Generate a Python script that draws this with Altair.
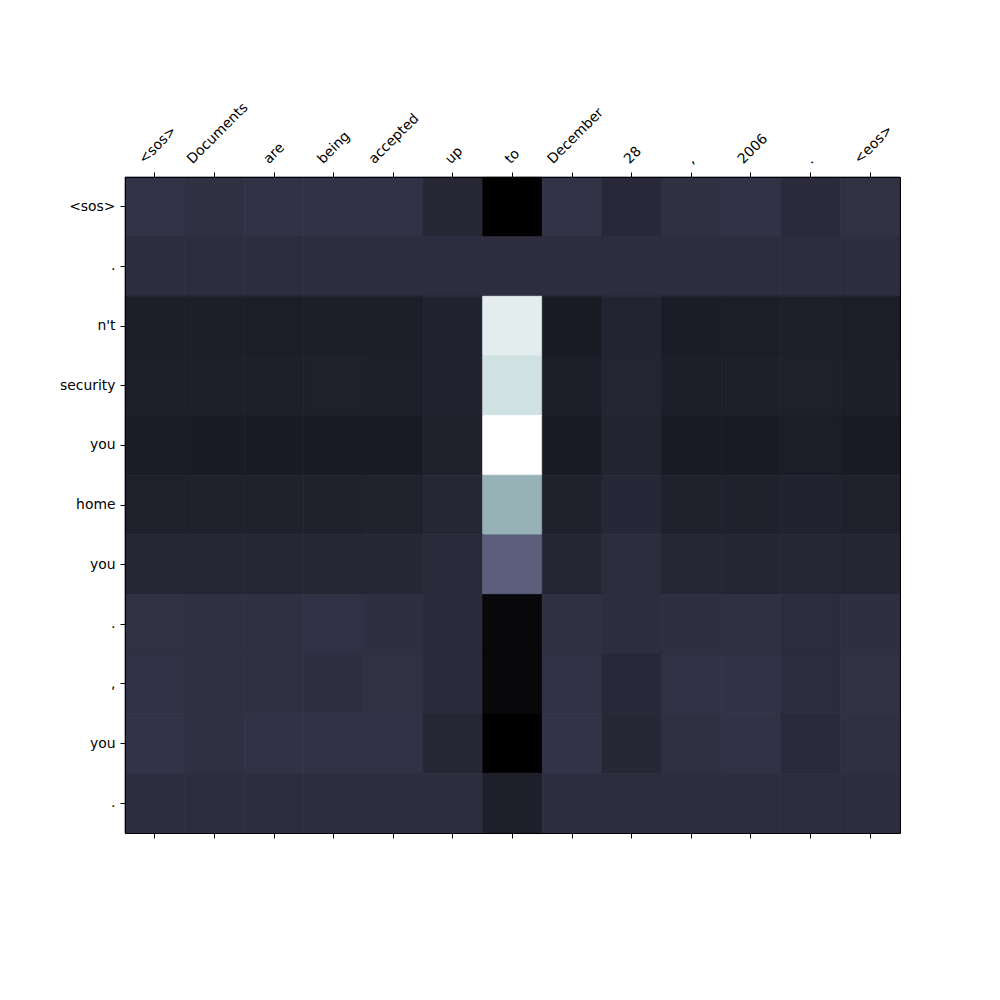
import json
import altair as alt
import pandas as pd

# Source tokens (columns) and output tokens (rows)
source_tokens = ["<sos>", "Documents", "are", "being", "accepted", "up", "to",
                 "December", "28", ",", "2006", ".", "<eos>"]
output_tokens = ["<sos>", ".", "n't", "security", "you", "home", "you",
                 ".", ",", "you", "."]

# Attention weights, one list per output token
row_sos      = [0.230, 0.215, 0.225, 0.225, 0.225, 0.170, 0.000, 0.230, 0.180, 0.215, 0.225, 0.190, 0.220]
row_dot1     = [0.205, 0.205, 0.205, 0.205, 0.205, 0.205, 0.205, 0.205, 0.205, 0.205, 0.205, 0.205, 0.205]
row_nt       = [0.135, 0.133, 0.130, 0.133, 0.135, 0.155, 0.920, 0.120, 0.160, 0.128, 0.130, 0.140, 0.132]
row_security = [0.138, 0.138, 0.140, 0.142, 0.140, 0.155, 0.865, 0.132, 0.163, 0.135, 0.138, 0.142, 0.137]
row_you1     = [0.125, 0.123, 0.122, 0.123, 0.123, 0.150, 1.000, 0.120, 0.158, 0.122, 0.118, 0.130, 0.118]
row_home     = [0.145, 0.150, 0.150, 0.150, 0.152, 0.170, 0.680, 0.148, 0.178, 0.150, 0.148, 0.155, 0.148]
row_you2     = [0.172, 0.172, 0.172, 0.172, 0.175, 0.185, 0.410, 0.165, 0.200, 0.170, 0.168, 0.172, 0.165]
row_dot2     = [0.220, 0.215, 0.215, 0.222, 0.213, 0.190, 0.035, 0.215, 0.205, 0.213, 0.217, 0.200, 0.210]
row_comma    = [0.222, 0.218, 0.218, 0.212, 0.220, 0.190, 0.035, 0.222, 0.182, 0.222, 0.225, 0.200, 0.220]
row_you3     = [0.228, 0.218, 0.225, 0.225, 0.225, 0.170, 0.000, 0.228, 0.175, 0.215, 0.225, 0.190, 0.218]
row_dot3     = [0.205, 0.205, 0.205, 0.205, 0.205, 0.205, 0.140, 0.205, 0.205, 0.205, 0.205, 0.205, 0.205]

attention = [row_sos, row_dot1, row_nt, row_security, row_you1, row_home,
             row_you2, row_dot2, row_comma, row_you3, row_dot3]

records = []
for i, row in enumerate(attention):
    for j, v in enumerate(row):
        records.append({"row": i, "col": j, "value": v})
df = pd.DataFrame(records)

x_names = json.dumps(source_tokens)
y_names = json.dumps(output_tokens)

# matplotlib "bone" colormap (piecewise linear)
bone_domain = [0.0, 0.365079, 0.746032, 1.0]
bone_range = ["#000000", "#515171", "#a6c6c6", "#ffffff"]
bone_scale = alt.Scale(type="linear", domain=bone_domain,
                       range=bone_range, interpolate="rgb")

FONT = "DejaVu Sans"
FS = 13.9

x_scale = alt.Scale(paddingInner=0, paddingOuter=0)
y_scale = alt.Scale(paddingInner=0, paddingOuter=0)

label_offset_expr = f"-(length({x_names}[datum.value]) * 8 - 16) / 2.83"

heat = alt.Chart(df).mark_rect(strokeWidth=0.8).encode(
    x=alt.X("col:O", scale=x_scale,
            axis=alt.Axis(orient="top", title=None, grid=False,
                          labelExpr=f"{x_names}[datum.value]",
                          labelAngle=315, labelAlign="left", labelBaseline="bottom",
                          labelOffset={"expr": label_offset_expr},
                          labelPadding=6, tickSize=5, tickColor="black",
                          domain=True, domainColor="black", domainWidth=1,
                          labelFont=FONT, labelFontSize=FS, labelColor="black",
                          labelOverlap=False, labelBound=False, labelFlush=False,
                          zindex=1)),
    y=alt.Y("row:O", scale=y_scale,
            axis=alt.Axis(orient="left", title=None, grid=False,
                          labelExpr=f"{y_names}[datum.value]",
                          labelPadding=5, tickSize=5, tickColor="black",
                          domain=True, domainColor="black", domainWidth=1,
                          labelFont=FONT, labelFontSize=FS, labelColor="black",
                          labelOverlap=False, labelAngle=0,
                          zindex=1)),
    color=alt.Color("value:Q", scale=bone_scale, legend=None),
    stroke=alt.Stroke("value:Q", scale=bone_scale, legend=None),
)

frame = alt.Chart(df).mark_rect(opacity=0).encode(
    x=alt.X("col:O", scale=x_scale,
            axis=alt.Axis(orient="bottom", title=None, labels=False, grid=False,
                          tickSize=5, tickColor="black",
                          domain=True, domainColor="black", domainWidth=1,
                          zindex=1)),
    y=alt.Y("row:O", scale=y_scale,
            axis=alt.Axis(orient="right", title=None, labels=False, grid=False,
                          ticks=False, domain=True, domainColor="black",
                          domainWidth=1, zindex=1)),
)

chart = alt.layer(heat, frame).properties(
    width=775, height=656,
    autosize=alt.AutoSizeParams(type="none"),
    padding={"left": 117, "top": 169, "right": 90, "bottom": 160},
    background="white",
).configure_view(stroke=None).configure_axis(grid=False)

chart.save("out.html", embed_options={"renderer": "svg", "actions": False})
